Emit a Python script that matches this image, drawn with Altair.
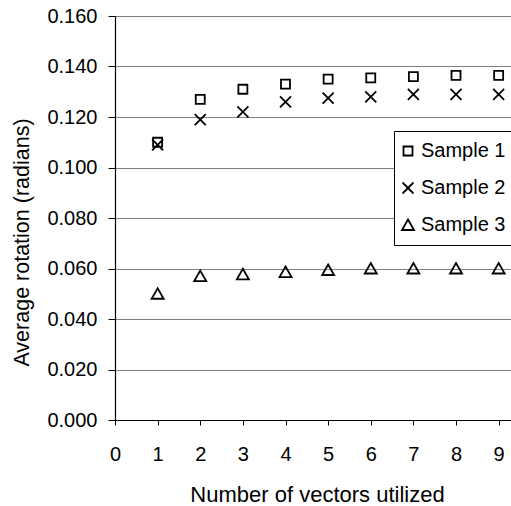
import altair as alt
import pandas as pd

x_vals = [1, 2, 3, 4, 5, 6, 7, 8, 9]
sample1 = [0.110, 0.127, 0.131, 0.133, 0.135, 0.1355, 0.136, 0.1365, 0.1365]
sample2 = [0.109, 0.119, 0.122, 0.126, 0.1275, 0.128, 0.129, 0.129, 0.129]
sample3 = [0.050, 0.057, 0.0577, 0.0586, 0.0594, 0.060, 0.060, 0.060, 0.060]
series = ["Sample 1", "Sample 2", "Sample 3"]
y_ticks = [0.0, 0.02, 0.04, 0.06, 0.08, 0.10, 0.12, 0.14, 0.16]
x_ticks = [0, 1, 2, 3, 4, 5, 6, 7, 8, 9]

rows = []
for name, vals in zip(series, [sample1, sample2, sample3]):
    for xv, yv in zip(x_vals, vals):
        rows.append({"n": xv, "rot": yv, "series": name})
df = pd.DataFrame(rows)

FONT = "Liberation Sans"
square_path = "M-0.9,-0.9L0.9,-0.9L0.9,0.9L-0.9,0.9Z"
x_path = "M-1.1,-1.1L1.1,1.1M-1.1,1.1L1.1,-1.1"
tri_path = "M0,-1.1L1.2,1L-1.2,1Z"

chart = alt.Chart(df).mark_point(
    filled=False, color="black", strokeWidth=1.8, size=100, opacity=1
).encode(
    x=alt.X("n:Q",
            scale=alt.Scale(domain=[0, 9.29], nice=False, zero=False),
            axis=alt.Axis(values=x_ticks, format="d", grid=False,
                          title="Number of vectors utilized",
                          titleFontSize=22,
                          titleX=202, titleY=81, titleBaseline="alphabetic",
                          titleAnchor="start", titleAlign="center",
                          tickSize=5, labelPadding=19, labelFlush=False)),
    y=alt.Y("rot:Q",
            scale=alt.Scale(domain=[0, 0.16], nice=False),
            axis=alt.Axis(values=y_ticks, format=".3f", grid=True,
                          title="Average rotation (radians)",
                          titleFontSize=21.5,
                          titleAngle=-90, titleX=-93, titleY=226,
                          titleAlign="center", titleBaseline="middle",
                          tickSize=7, labelPadding=11)),
    shape=alt.Shape("series:N",
                    scale=alt.Scale(domain=series,
                                    range=[square_path, x_path, tri_path]),
                    legend=alt.Legend(title=None, orient="none",
                                      legendX=279, legendY=115)),
).properties(
    width=396, height=404,
    autosize=alt.AutoSizeParams(type="none"),
    padding={"left": 115, "top": 16, "right": 0, "bottom": 86},
).configure_view(
    stroke=None
).configure_axis(
    labelFont=FONT, titleFont=FONT, labelFontSize=20, titleFontSize=20,
    labelColor="black", titleColor="black", titleFontWeight="normal",
    domainColor="#000000", tickColor="#000000", domainWidth=1.2,
    gridColor="#808080", gridWidth=1.2,
).configure_legend(
    labelFont=FONT, labelFontSize=20, labelColor="black",
    strokeColor="#000000", fillColor="white", padding=10,
    rowPadding=17, labelOffset=3, symbolOffset=-6, symbolSize=100,
    symbolStrokeWidth=1.8,
    symbolStrokeColor="black", symbolFillColor="transparent", cornerRadius=0,
)

chart.save("out.html", embed_options={"renderer": "svg", "actions": False})
